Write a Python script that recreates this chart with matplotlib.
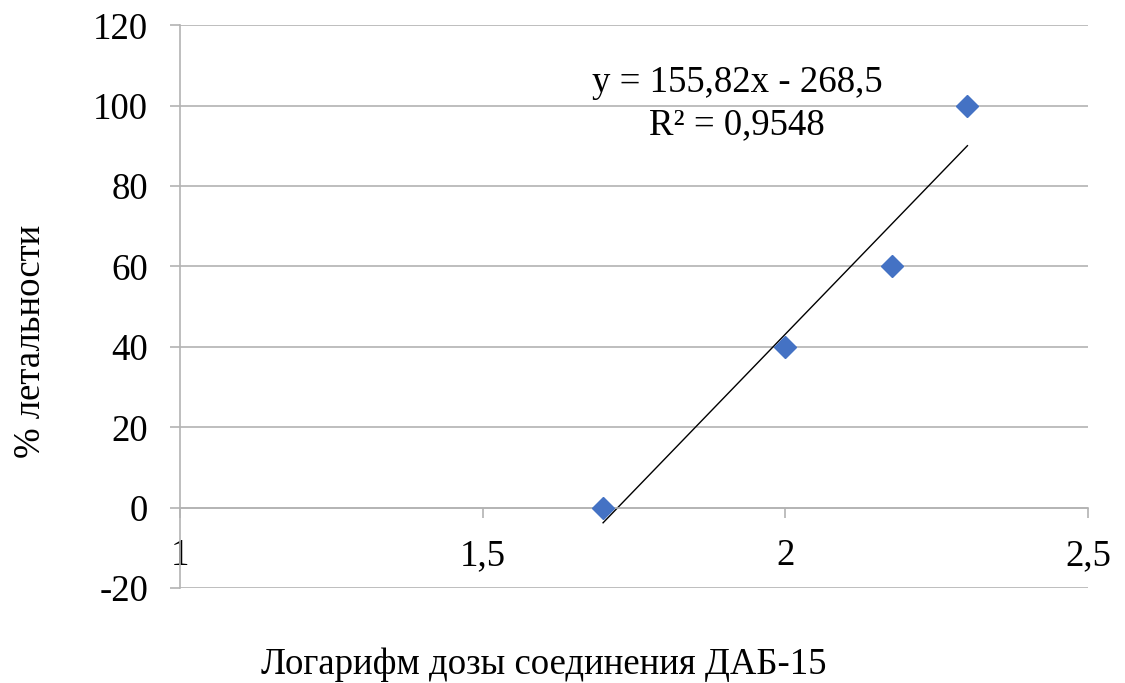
import matplotlib.pyplot as plt
import numpy as np

plt.rcParams['font.family'] = ['Liberation Serif', 'DejaVu Serif']

# lg dose vs % lethality
log_dose = [1.699, 2.0, 2.176, 2.301]
lethality = [0, 40, 60, 100]
slope, intercept = 155.82, -268.5
r2 = 0.9548

x_ticks = [1, 1.5, 2, 2.5]
x_tick_labels = ["1", "1,5", "2", "2,5"]
y_ticks = list(range(-20, 121, 20))

grid_c = "#b3b3b3"
fs = 26.5

fig = plt.figure(figsize=(11.25, 6.83), dpi=100)
ax = fig.add_axes([0.16, 0.139, 0.807, 0.824])

ax.set_xlim(1, 2.5)
ax.set_ylim(-20, 120)
ax.set_yticks(y_ticks)
ax.set_yticklabels([str(v) for v in y_ticks])
ax.set_xticks(x_ticks)
ax.set_xticklabels(x_tick_labels)

ax.yaxis.grid(True, color=grid_c, lw=1.2)
ax.set_axisbelow(True)
for s in ("top", "right"):
    ax.spines[s].set_visible(False)
ax.spines["left"].set_color(grid_c)
ax.spines["left"].set_linewidth(1.2)
ax.spines["bottom"].set_position(("data", 0))
ax.spines["bottom"].set_color(grid_c)
ax.spines["bottom"].set_linewidth(1.2)

ax.tick_params(axis="y", direction="out", length=7, width=1.2, color=grid_c,
               labelsize=fs, pad=16)
ax.tick_params(axis="x", direction="out", length=7, width=1.2, color=grid_c,
               labelsize=fs, pad=15)

# trend line
xt = np.array([min(log_dose), max(log_dose)])
ax.plot(xt, slope * xt + intercept, color="black", lw=1)

ax.plot(log_dose, lethality, ls="none", marker="D", ms=11,
        color="#4472C4", clip_on=False, zorder=5)

ax.text(1.92, 105.8, "y = 155,82x - 268,5", ha="center", va="center", fontsize=fs)
ax.text(1.92, 95.1, "R² = 0,9548", ha="center", va="center", fontsize=fs)

fig.text(0.027, 0.5, "% летальности", rotation=90, ha="center", va="center", fontsize=fs)
fig.text(0.483, 0.027, "Логарифм дозы соединения ДАБ-15", ha="center", va="center", fontsize=fs)

fig.savefig("out.png", dpi=100)
